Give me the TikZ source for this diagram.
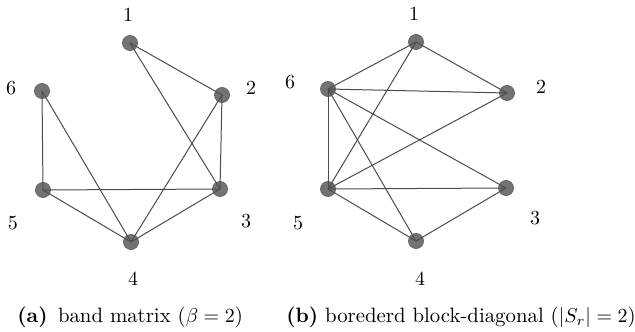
\documentclass[tikz,border=0pt]{standalone}
\usepackage{xcolor}
\usetikzlibrary{positioning}
\tikzset{
  vertex/.style={
    circle,
    draw=black!60,
    fill=black!55,
    minimum size=7.5pt,
    inner sep=0pt,
    line width=0.4pt
  },
  vlabel/.style={font=\normalsize, inner sep=1pt},
  edge/.style={draw=black!70, line width=0.5pt},
  caption/.style={font=\fontsize{10.4}{12}\selectfont, anchor=base west, inner sep=0pt}
}

\begin{document}
\begin{tikzpicture}[x=0.5pt, y=-0.5pt]
  \useasboundingbox (0,0) rectangle (635,331);

  % (a) band matrix
  \node[vertex] (a1) at (130,43) {};
  \node[vertex] (a2) at (222,95) {};
  \node[vertex] (a3) at (220,189) {};
  \node[vertex] (a4) at (131,242) {};
  \node[vertex] (a5) at (43,190) {};
  \node[vertex] (a6) at (42,91) {};
  \node[vlabel] (la1) at (128,15) {1};
  \node[vlabel] (la2) at (251,88) {2};
  \node[vlabel] (la3) at (246,221) {3};
  \node[vlabel] (la4) at (133,279) {4};
  \node[vlabel] (la5) at (13,223) {5};
  \node[vlabel] (la6) at (11,88) {6};

  \draw[edge] (a1.center) -- (a2.center);
  \draw[edge] (a1.center) -- (a3.center);
  \draw[edge] (a2.center) -- (a3.center);
  \draw[edge] (a2.center) -- (a4.center);
  \draw[edge] (a3.center) -- (a4.center);
  \draw[edge] (a3.center) -- (a5.center);
  \draw[edge] (a4.center) -- (a5.center);
  \draw[edge] (a4.center) -- (a6.center);
  \draw[edge] (a5.center) -- (a6.center);

  % (b) bordered block-diagonal
  \node[vertex] (b1) at (416,42) {};
  \node[vertex] (b2) at (507,93) {};
  \node[vertex] (b3) at (506,188) {};
  \node[vertex] (b4) at (416,241) {};
  \node[vertex] (b5) at (328,189) {};
  \node[vertex] (b6) at (328,89) {};
  \node[vlabel] (lb1) at (414,14) {1};
  \node[vlabel] (lb2) at (541,87) {2};
  \node[vlabel] (lb3) at (535,218) {3};
  \node[vlabel] (lb4) at (420,279) {4};
  \node[vlabel] (lb5) at (298,223) {5};
  \node[vlabel] (lb6) at (290,82) {6};

  \draw[edge] (b1.center) -- (b2.center);
  \draw[edge] (b3.center) -- (b4.center);
  \draw[edge] (b6.center) -- (b1.center);
  \draw[edge] (b6.center) -- (b2.center);
  \draw[edge] (b6.center) -- (b3.center);
  \draw[edge] (b6.center) -- (b4.center);
  \draw[edge] (b6.center) -- (b5.center);
  \draw[edge] (b5.center) -- (b1.center);
  \draw[edge] (b5.center) -- (b2.center);
  \draw[edge] (b5.center) -- (b3.center);
  \draw[edge] (b5.center) -- (b4.center);

  % captions
  \node[caption] (capa) at (17,322) {\textbf{(a)}\, band matrix ($\beta = 2$)};
  \node[caption] (capb) at (286,322) {\textbf{(b)} borederd block-diagonal ($|S_r| = 2$)};
\end{tikzpicture}
\end{document}
